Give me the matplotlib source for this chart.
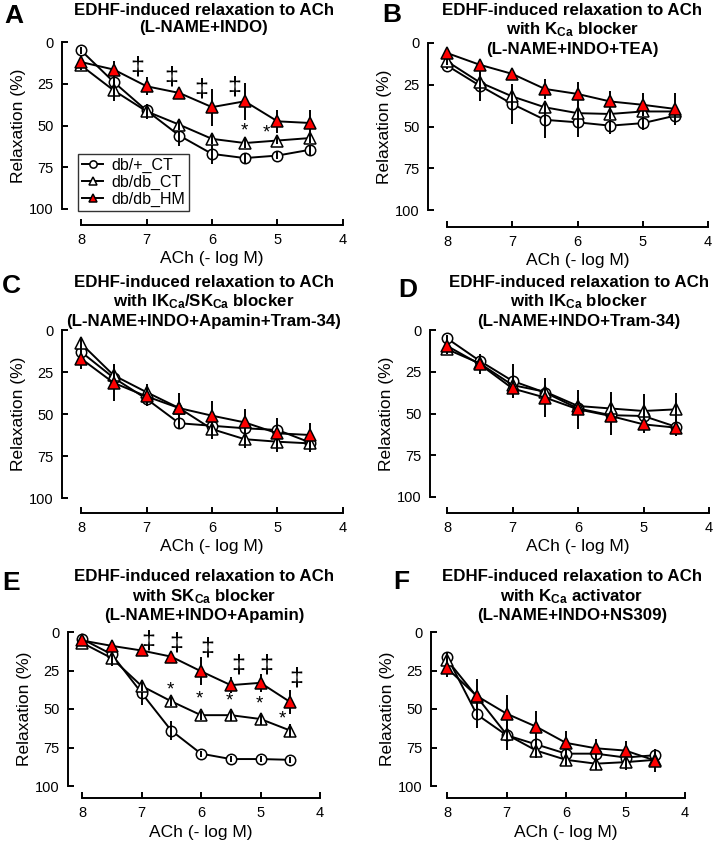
import numpy as np
import matplotlib
matplotlib.use("Agg")
import matplotlib.pyplot as plt

plt.rcParams['font.family'] = ['Liberation Sans', 'DejaVu Sans']
plt.rcParams['mathtext.fontset'] = 'custom'
plt.rcParams['mathtext.rm'] = 'Liberation Sans:bold'
plt.rcParams['mathtext.it'] = 'Liberation Sans:bold'
plt.rcParams['mathtext.bf'] = 'Liberation Sans:bold'

# ACh concentration (- log M)
conc = [8, 7.5, 7, 6.5, 6, 5.5, 5, 4.5]
labels = ['db/+_CT', 'db/db_CT', 'db/db_HM']

# panel A: L-NAME+INDO
a_wt = [5, 24, 41, 56, 67, 69.5, 68, 64.5]
a_wt_err = [2, 4, 3, 6, 6, 3, 2, 3]
a_ct = [14, 29, 41.5, 49.5, 58, 60.5, 59, 57.5]
a_ct_err = [3, 6.5, 4.5, 3, 3, 3, 2, 3]
a_hm = [12, 16.5, 26.5, 30.5, 39, 35.5, 47.5, 48.5]
a_hm_err = [3, 5, 5.5, 3, 11, 11, 7, 8]

# panel B: + TEA
b_wt = [13.5, 25.5, 36.5, 46, 47.5, 49.5, 48, 43.5]
b_wt_err = [2, 9, 12, 11, 9, 5, 4, 4]
b_ct = [11, 23.5, 32, 38.5, 42, 42.5, 41, 41]
b_ct_err = [2, 6, 5, 4, 4, 3, 3, 3]
b_hm = [6, 13, 18.5, 27.5, 30.5, 35, 37, 39.5]
b_hm_err = [2, 3, 3, 6, 7, 6, 7, 9.5]

# panel C: + Apamin + Tram-34
c_wt = [13, 28.5, 41, 55.5, 57, 58.5, 59.5, 67]
c_wt_err = [3, 4, 4, 3, 4, 3, 3, 3]
c_ct = [8, 27, 37, 46.5, 59, 65, 66.5, 67.5]
c_ct_err = [3, 7, 5, 4, 6, 5, 6, 5]
c_hm = [17, 31.5, 39.5, 46.5, 51, 55, 61.5, 62.5]
c_hm_err = [6, 10.5, 6, 9, 8.5, 8, 9, 7]

# panel D: + Tram-34
d_wt = [5, 18.5, 30.5, 37.5, 47, 51, 51.5, 58]
d_wt_err = [2, 3, 10, 4, 5, 4, 4, 4]
d_ct = [11.5, 20, 33, 37, 45.5, 47, 48.5, 47.5]
d_ct_err = [3, 4, 5, 4, 5, 10, 10, 10]
d_hm = [9.5, 20.5, 35, 40.5, 47.5, 51.5, 56.5, 58.5]
d_hm_err = [3, 6, 6, 11.5, 11.5, 11.5, 5, 5]

# panel E: + Apamin
e_wt = [4.5, 14.5, 39.5, 64, 79, 82.5, 82.5, 83]
e_wt_err = [2, 3, 8, 6, 2, 2, 2, 2]
e_ct = [7, 17, 35, 45, 54, 54, 56.5, 64]
e_ct_err = [2, 5, 3, 3, 3, 4, 4, 4]
e_hm = [5.5, 9, 12, 16, 25.5, 34.5, 33, 45.5]
e_hm_err = [2, 4, 3, 3, 9, 5, 6, 8]

# panel F: + NS309
f_wt = [16, 53.5, 67, 73, 79, 79, 81.5, 80]
f_wt_err = [3, 9, 4, 4, 4, 3, 4, 4]
f_ct = [18, 42, 66.5, 77, 83, 85.5, 84.5, 83]
f_ct_err = [3, 4, 10, 5, 4, 4, 5, 3]
f_hm = [23.5, 41.5, 53, 61.5, 72, 75.5, 77, 83.5]
f_hm_err = [6, 11, 12, 10, 7.5, 6, 6, 7.5]

# significance marks (x, y)
a_dag = [(7.14, 15), (6.62, 21), (6.17, 28.5), (5.66, 27)]
a_star = [(5.51, 53.5), (5.17, 54.5)]
e_dag = [(6.88, 6), (6.41, 7.5), (5.90, 10.5), (5.37, 21.5), (4.90, 21.5), (4.40, 30)]
e_star = [(6.51, 37.5), (6.03, 43.5), (5.52, 45), (5.02, 46.5), (4.63, 56.5)]

titles = {
    'A': 'EDHF-induced relaxation to ACh\n(L-NAME+INDO)',
    'B': 'EDHF-induced relaxation to ACh\nwith K$_{Ca}$ blocker\n(L-NAME+INDO+TEA)',
    'C': 'EDHF-induced relaxation to ACh\nwith IK$_{Ca}$/SK$_{Ca}$ blocker\n(L-NAME+INDO+Apamin+Tram-34)',
    'D': 'EDHF-induced relaxation to ACh\nwith IK$_{Ca}$ blocker\n(L-NAME+INDO+Tram-34)',
    'E': 'EDHF-induced relaxation to ACh\nwith SK$_{Ca}$ blocker\n(L-NAME+INDO+Apamin)',
    'F': 'EDHF-induced relaxation to ACh\nwith K$_{Ca}$ activator\n(L-NAME+INDO+NS309)',
}

W, H = 714, 842
fig = plt.figure(figsize=(W / 100, H / 100), dpi=100)


def px_axes(x0, x1, y0, y1):
    # axes box from pixel coords (x of 8 and 4, y of 0 and 100)
    return fig.add_axes([x0 / W, 1 - y1 / H, (x1 - x0) / W, (y1 - y0) / H])


def draw_panel(ax, wt, wt_err, ct, ct_err, hm, hm_err, off_left, off_bottom):
    lw = 1.4
    ax.plot(conc, wt, '-o', color='black', lw=lw, ms=7.5, mfc='white', mec='black',
            mew=1.1, clip_on=False, zorder=3, label=labels[0])
    ax.errorbar(conc, wt, yerr=wt_err, fmt='none', ecolor='black', elinewidth=lw,
                capsize=0, clip_on=False, zorder=3.5)
    ax.plot(conc, ct, '-^', color='black', lw=lw, ms=8.5, mfc='white', mec='black',
            mew=1.1, clip_on=False, zorder=4, label=labels[1])
    ax.errorbar(conc, ct, yerr=ct_err, fmt='none', ecolor='black', elinewidth=lw,
                capsize=0, clip_on=False, zorder=4.5)
    ax.errorbar(conc, hm, yerr=hm_err, fmt='none', ecolor='black', elinewidth=lw,
                capsize=0, clip_on=False, zorder=5)
    ax.plot(conc, hm, '-^', color='black', lw=lw, ms=8.5, mfc='#ff0000', mec='black',
            mew=1.1, clip_on=False, zorder=5.5, label=labels[2])

    ax.set_xlim(8, 4)
    ax.set_ylim(100, 0)
    ax.set_xticks([8, 7, 6, 5, 4])
    ax.set_yticks([0, 25, 50, 75, 100])
    for s in ['top', 'right']:
        ax.spines[s].set_visible(False)
    ax.spines['left'].set_position(('outward', off_left * 0.72))
    ax.spines['bottom'].set_position(('outward', off_bottom * 0.72))
    for s in ['left', 'bottom']:
        ax.spines[s].set_linewidth(1.4)
    ax.tick_params(direction='in', length=4, width=1.4, labelsize=10.5, pad=6)
    ax.set_xlabel('ACh (- log M)', fontsize=12.5, labelpad=3)
    ax.set_ylabel('Relaxation (%)', fontsize=12.5, labelpad=2)
    ax.patch.set_visible(False)


axA = px_axes(81, 343, 42, 209)
draw_panel(axA, a_wt, a_wt_err, a_ct, a_ct_err, a_hm, a_hm_err, 19, 16)
axB = px_axes(447, 708, 43, 210)
draw_panel(axB, b_wt, b_wt_err, b_ct, b_ct_err, b_hm, b_hm_err, 19, 17)
axC = px_axes(81, 343, 330, 498)
draw_panel(axC, c_wt, c_wt_err, c_ct, c_ct_err, c_hm, c_hm_err, 19, 15)
axD = px_axes(447, 709, 330, 497)
draw_panel(axD, d_wt, d_wt_err, d_ct, d_ct_err, d_hm, d_hm_err, 17, 16)
axE = px_axes(82, 320, 632, 786)
draw_panel(axE, e_wt, e_wt_err, e_ct, e_ct_err, e_hm, e_hm_err, 14, 12)
axF = px_axes(447, 685, 632, 786)
draw_panel(axF, f_wt, f_wt_err, f_ct, f_ct_err, f_hm, f_hm_err, 16, 12)

for ax, dags, stars in [(axA, a_dag, a_star), (axE, e_dag, e_star)]:
    for x, y in dags:
        ax.text(x, y, '\u2021', ha='center', va='center', fontsize=18, zorder=6)
    for x, y in stars:
        ax.text(x, y, '*', ha='center', va='center', fontsize=13.5, zorder=6)

leg = axA.legend(loc='lower left', bbox_to_anchor=(-0.01, -0.01), fontsize=11.5,
                 frameon=True, fancybox=False, edgecolor='#333333', framealpha=1,
                 handlelength=1.3, handletextpad=0.5, labelspacing=0.1,
                 borderpad=0.25, borderaxespad=0, markerscale=0.7)
leg.get_frame().set_linewidth(1.0)

# panel titles and letters
title_pos = {'A': (204, 3), 'B': (572, 3), 'C': (204, 275), 'D': (579, 275),
             'E': (204, 569), 'F': (572, 569)}
letter_pos = {'A': (4, 4), 'B': (382, 3), 'C': (2, 274), 'D': (398, 278),
              'E': (2, 571), 'F': (393, 570)}
for key, txt in titles.items():
    x, y = title_pos[key]
    fig.text(x / W, 1 - y / H, txt, ha='center', va='top', fontsize=12.2,
             fontweight='bold', linespacing=1.2)
    lx, ly = letter_pos[key]
    fig.text(lx / W, 1 - ly / H, key, ha='left', va='top', fontsize=19,
             fontweight='bold')

fig.savefig('out.png', dpi=100)
